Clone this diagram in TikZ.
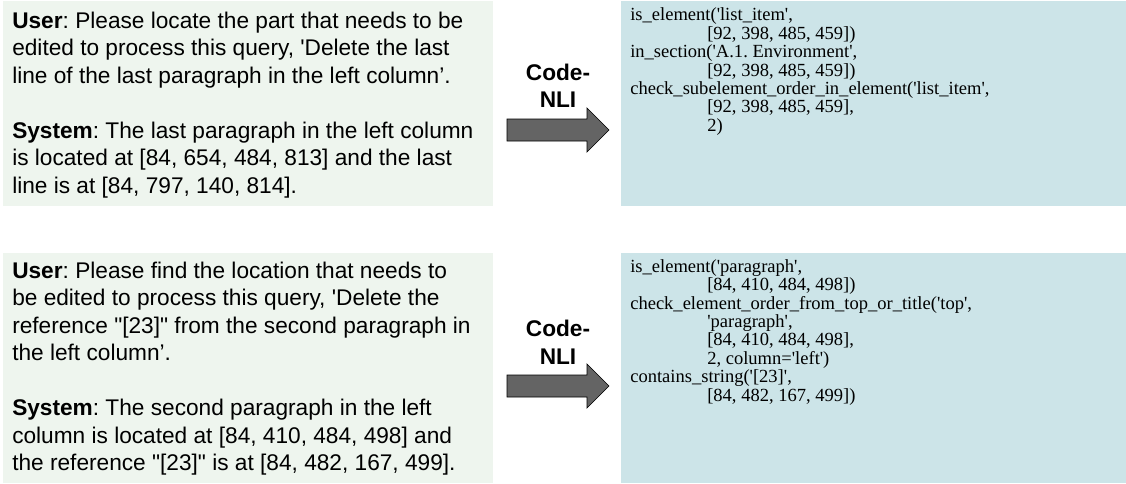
\documentclass[tikz,border=0pt]{standalone}
\usepackage{fontspec}
\setmainfont{Liberation Sans}
\newfontfamily\codefont{Liberation Serif}
\usetikzlibrary{fit}
\frenchspacing
\definecolor{usergreen}{HTML}{EEF5EE}
\definecolor{codeblue}{HTML}{CCE4E8}
\definecolor{arrowgray}{HTML}{646464}
\newcommand\qs{\textquotesingle}
\newcommand\dq{\textquotedbl}
\newcommand\cind{\hspace*{57.75pt}}
\tikzset{
  userbox/.style={fill=usergreen, draw=none, inner sep=0pt},
  codebox/.style={fill=codeblue, draw=none, inner sep=0pt},
  chattext/.style={anchor=north west, inner sep=0pt, align=left, font={\fontsize{17}{20.6}\selectfont\frenchspacing}},
  codetext/.style={anchor=north west, inner sep=0pt, align=left, font={\codefont\fontsize{13.9}{13.8}\selectfont\frenchspacing}},
  arrowlabel/.style={anchor=north, inner sep=0pt, align=center, font={\fontsize{17}{20.6}\selectfont\bfseries}},
  blockarrow/.style={fill=arrowgray, draw=black, line width=0.5pt, line join=miter}
}
\begin{document}
\begin{tikzpicture}[x=0.75pt, y=-0.75pt]
\useasboundingbox (0,0) rectangle (1126,483);
% boxes
\node[userbox, fit={(3,1) (493,206)}] (u1) {};
\node[codebox, fit={(621,1) (1126,206)}] (c1) {};
\node[userbox, fit={(3,253) (493,483)}] (u2) {};
\node[codebox, fit={(621,253) (1126,483)}] (c2) {};
% left texts
\node[chattext] (t1) at (12,8.8) {\strut\textbf{User}: Please locate the part that needs to be\\
edited to process this query, \qs Delete the last\\
line of the last paragraph in the left column’.\\[20.6pt]
\textbf{System}: The last paragraph in the left column\\
is located at [84, 654, 484, 813] and the last\\
line is at [84, 797, 140, 814].};
\node[chattext] (t2) at (12,258.8) {\strut\textbf{User}: Please find the location that needs to\\
be edited to process this query, \qs Delete the\\
reference \dq[23]\dq{} from the second paragraph in\\
the left column’.\\[20.6pt]
\textbf{System}: The second paragraph in the left\\
column is located at [84, 410, 484, 498] and\\
the reference \dq[23]\dq{} is at [84, 482, 167, 499].};
% code texts
\node[codetext] (k1) at (630,7.8) {\strut is\_element(\qs list\_item\qs,\\
\cind[92, 398, 485, 459])\\
in\_section(\qs A.1. Environment\qs,\\
\cind[92, 398, 485, 459])\\
check\_subelement\_order\_in\_element(\qs list\_item\qs,\\
\cind[92, 398, 485, 459],\\
\cind 2)};
\node[codetext] (k2) at (630,259.1) {\strut is\_element(\qs paragraph\qs,\\
\cind[84, 410, 484, 498])\\
check\_element\_order\_from\_top\_or\_title(\qs top\qs,\\
\cind\qs paragraph\qs,\\
\cind[84, 410, 484, 498],\\
\cind 2, column=\qs left\qs)\\
contains\_string(\qs[23]\qs,\\
\cind[84, 482, 167, 499])};
% arrow labels
\node[arrowlabel] (l1) at (558,60.8) {\strut Code-\\NLI};
\node[arrowlabel] (l2) at (558,317.3) {\strut Code-\\NLI};
% block arrows
\draw[blockarrow] (507,119) -- (587,119) -- (587,108) -- (609,130) -- (587,152) -- (587,141) -- (507,141) -- cycle;
\draw[blockarrow] (507,375) -- (587,375) -- (587,364) -- (609,386) -- (587,408) -- (587,397) -- (507,397) -- cycle;
\end{tikzpicture}
\end{document}
